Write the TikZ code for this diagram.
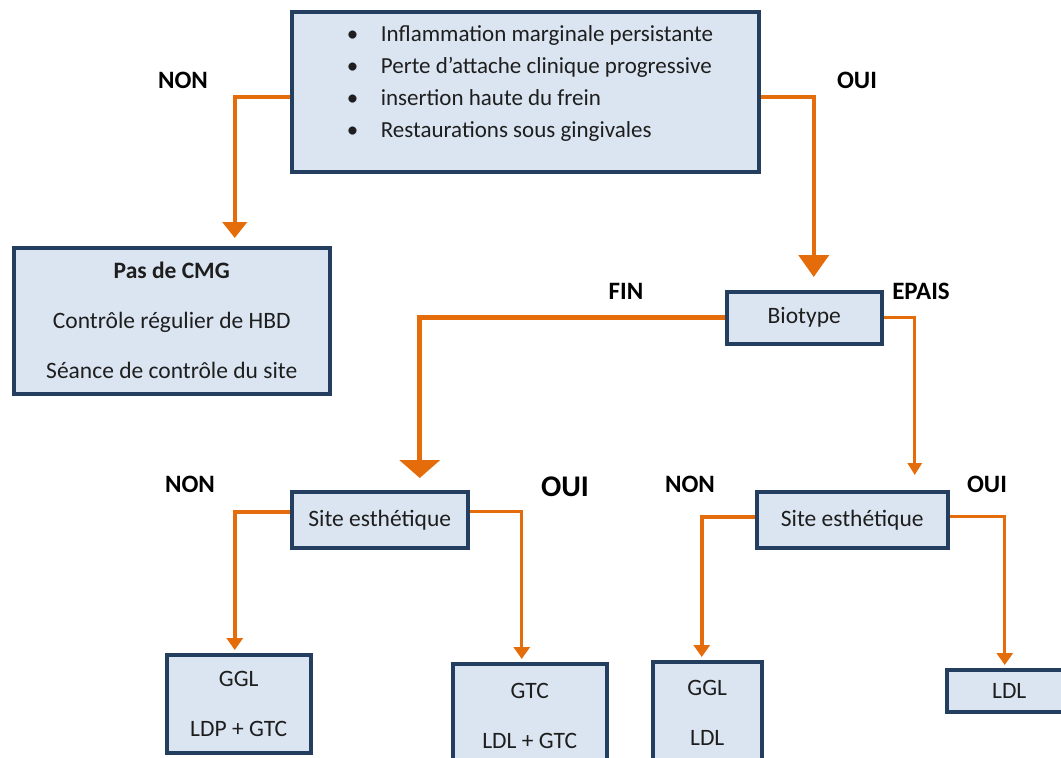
\documentclass[tikz,border=0pt]{standalone}
\usepackage{fontspec}
\setmainfont{Carlito}
\usetikzlibrary{arrows.meta}
\definecolor{boxfill}{RGB}{219,229,241}
\definecolor{boxline}{RGB}{36,62,96}
\definecolor{flow}{RGB}{228,108,10}
\definecolor{ink}{RGB}{30,30,30}

\begin{document}
\begin{tikzpicture}[x=1pt,y=-1pt,
  box/.style={draw=boxline, line width=3.5pt, fill=boxfill, inner sep=0pt, anchor=north west,
    text=ink, align=center, font=\fontsize{23.5}{28}\selectfont},
  link/.style={draw=flow, line width=4pt},
  ans/.style={font=\bfseries\fontsize{25}{28}\selectfont, text=black}]
\clip (0,0) rectangle (1061,758);

% Criteria
\node[box, minimum width=467pt, minimum height=160pt] (crit) at (290,10) {};
\node[text=ink, align=left, font=\fontsize{23}{32}\selectfont] (critTxt) at (530,83)
  {\makebox[34pt][l]{\textbullet}Inflammation marginale persistante\\
   \makebox[34pt][l]{\textbullet}Perte d’attache clinique progressive\\
   \makebox[34pt][l]{\textbullet}insertion haute du frein\\
   \makebox[34pt][l]{\textbullet}Restaurations sous gingivales};

% NON branch
\node[box, minimum width=316pt, minimum height=146pt] (noCmg) at (12,246)
  {\textbf{Pas de CMG}\\[22pt]Contrôle régulier de HBD\\[22pt]Séance de contrôle du site};
\draw[link, shorten >=8pt, -{Triangle[width=24pt,length=16pt]}]
  ([yshift=-5pt]crit.west) -| ([xshift=63pt]noCmg.north);
\node[ans] (critNon) at (183,80) {NON};

% OUI branch
\node[box, minimum width=155pt, minimum height=52pt] (bio) at (725,290) {Biotype};
\draw[link, shorten >=13pt, -{Triangle[width=30pt,length=22pt]}]
  ([yshift=-5pt]crit.east) -| ([xshift=9.5pt]bio.north);
\node[ans] (critOui) at (857,80) {OUI};

% Biotype
\node[box, minimum width=176pt, minimum height=56pt] (siteL) at (290,490) {Site esthétique};
\node[box, minimum width=191pt, minimum height=56pt] (siteR) at (755,490) {Site esthétique};
\draw[link, line width=5pt, shorten >=12pt, -{Triangle[width=40pt,length=18pt]}]
  (bio.west) -| ([xshift=40pt]siteL.north);
\draw[link, line width=3pt, shorten >=15pt, -{Triangle[width=14pt,length=12pt]}]
  (bio.east) -| ([xshift=62.5pt]siteR.north);
\node[ans] (bioFin) at (626,291) {FIN};
\node[ans] (bioEpais) at (921,291) {EPAIS};

% Fin: site esthetique
\node[box, minimum width=144pt, minimum height=98pt] (gglA) at (165,653) {GGL\\[22pt]LDP + GTC};
\node[box, minimum width=154pt, minimum height=104pt] (gtc) at (451,662) {GTC\\[22pt]LDL + GTC};
\draw[link, shorten >=3pt, -{Triangle[width=16pt,length=12pt]}]
  ([yshift=8pt]siteL.west) -| ([xshift=-4pt]gglA.north);
\draw[link, line width=3pt, shorten >=3pt, -{Triangle[width=16pt,length=12pt]}]
  ([yshift=8pt]siteL.east) -| ([xshift=-8pt]gtc.north);
\node[ans] (siteLNon) at (190,484) {NON};
\node[ans, font=\bfseries\fontsize{30}{32}\selectfont] (siteLOui) at (565,487) {OUI};

% Epais: site esthetique
\node[box, minimum width=109pt, minimum height=102pt] (gglB) at (651,660) {GGL\\[22pt]LDL};
\node[box, minimum width=125pt, minimum height=42pt] (ldl) at (945,668) {LDL};
\draw[link, shorten >=3pt, -{Triangle[width=16pt,length=12pt]}]
  ([yshift=3pt]siteR.west) -| ([xshift=-5.5pt]gglB.north);
\draw[link, line width=3pt, shorten >=3pt, -{Triangle[width=16pt,length=12pt]}]
  ([yshift=3pt]siteR.east) -| ([xshift=-4.5pt]ldl.north);
\node[ans] (siteRNon) at (690,484) {NON};
\node[ans] (siteROui) at (987,484) {OUI};
\end{tikzpicture}
\end{document}
